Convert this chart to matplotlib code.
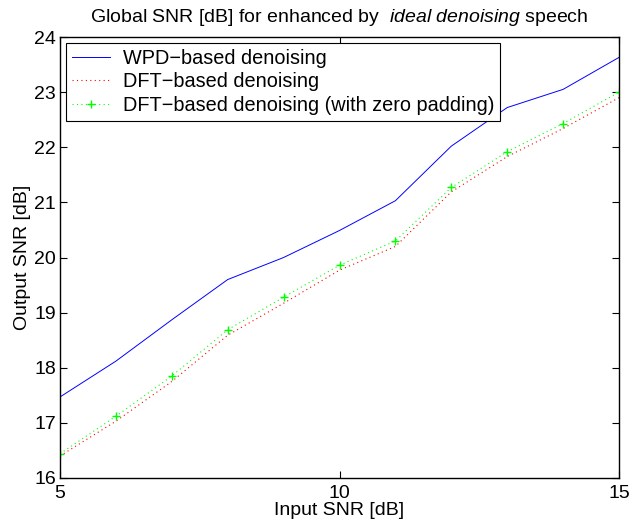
import matplotlib

matplotlib.use("Agg")
import matplotlib.pyplot as plt

plt.rcParams["font.family"] = ["Liberation Sans", "DejaVu Sans"]
plt.rcParams["mathtext.fontset"] = "custom"
plt.rcParams["mathtext.rm"] = "Liberation Sans"
plt.rcParams["mathtext.it"] = "Liberation Sans:italic"

input_snr = [5, 6, 7, 8, 9, 10, 11, 12, 13, 14, 15]
wpd_snr = [17.47, 18.12, 18.87, 19.60, 20.00, 20.49, 21.03, 22.02, 22.72, 23.05, 23.63]
dft_snr = [16.40, 17.03, 17.75, 18.59, 19.17, 19.77, 20.20, 21.19, 21.83, 22.34, 22.90]
dft_zp_snr = [16.44, 17.12, 17.85, 18.69, 19.28, 19.86, 20.30, 21.27, 21.92, 22.43, 23.00]

labels = ["WPD\u2212based denoising",
          "DFT\u2212based denoising",
          "DFT\u2212based denoising (with zero padding)"]

fig = plt.figure(figsize=(6.31, 5.31), dpi=100)
# axes box in pixels: x 60..619, y 37..478
ax = fig.add_axes([60 / 631, 53 / 531, 559 / 631, 441 / 531])

ax.plot(input_snr, wpd_snr, color="#0000ff", linewidth=0.7, label=labels[0])
ax.plot(input_snr, dft_snr, color="#ff0000", linestyle=(0, (1, 3)), linewidth=0.8, label=labels[1])
ax.plot(input_snr, dft_zp_snr, color="#00ff00", linestyle=(0, (1, 3)), linewidth=0.8,
        marker="+", markersize=6, markeredgewidth=1.0, label=labels[2])

ax.set_xlim(5, 15)
ax.set_ylim(16, 24)
ax.set_xticks([5, 10, 15])
ax.set_yticks(range(16, 25))
ax.tick_params(direction="in", top=True, right=True, labelsize=14, length=5, width=0.8)
ax.tick_params(axis="x", pad=5)
ax.tick_params(axis="y", pad=3)
for spine in ax.spines.values():
    spine.set_linewidth(1.0)

ax.set_xlabel("Input SNR [dB]", fontsize=14, labelpad=0)
ax.set_ylabel("Output SNR [dB]", fontsize=14, labelpad=2)
ax.set_title(r"Global SNR [dB] for enhanced by  $\mathit{ideal\ denoising}$ speech", fontsize=14, pad=11)

leg = ax.legend(loc="upper left", fontsize=14.3, fancybox=False, framealpha=1, edgecolor="black",
                borderaxespad=0.3, handlelength=1.9, handletextpad=0.65, borderpad=0.3, labelspacing=0.22)
leg.get_frame().set_linewidth(0.8)

fig.savefig("out.png", dpi=100)
